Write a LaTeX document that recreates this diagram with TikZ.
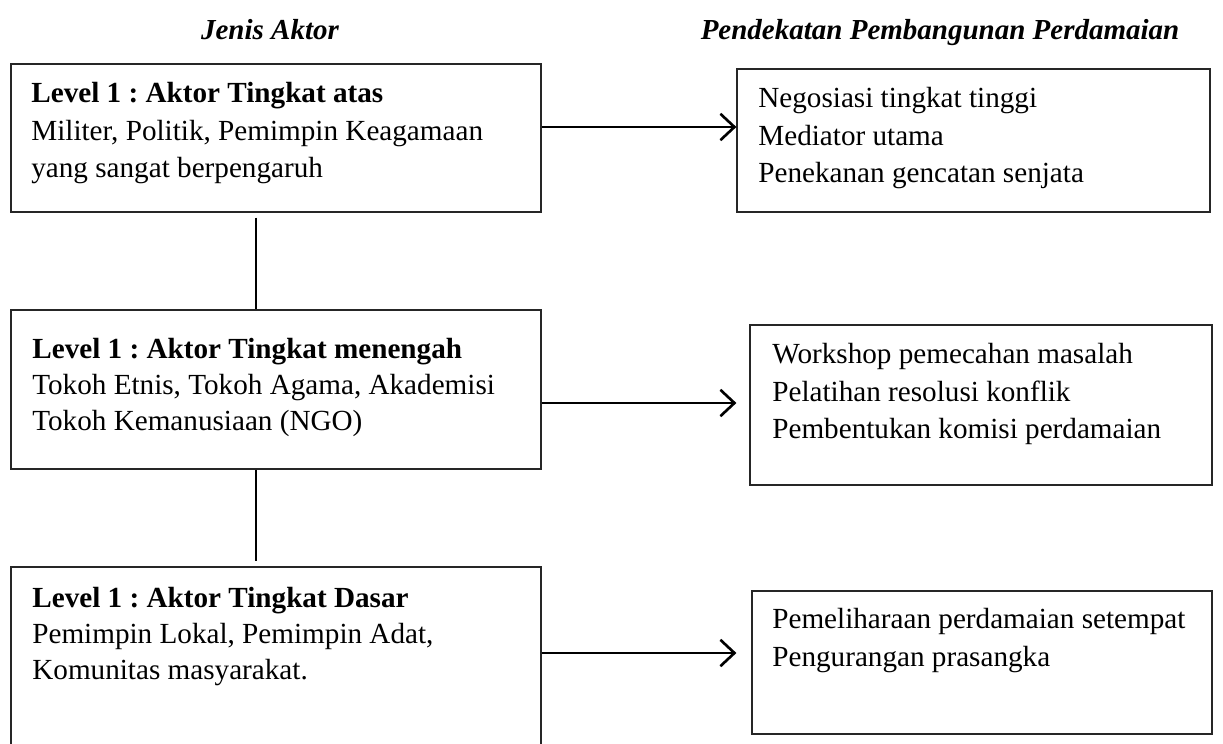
\documentclass[tikz,border=0pt]{standalone}
\usepackage{fontspec}
\setmainfont{Liberation Serif}
\frenchspacing
\usetikzlibrary{arrows.meta, positioning}

\begin{document}
\begin{tikzpicture}[x=0.2mm, y=-0.2mm,
        kotak/.style={rectangle, draw=black!85, line width=0.7pt, inner sep=0pt},
        isi/.style={anchor=north west, align=left, inner sep=0pt, font=\fontsize{16.6}{21.5}\selectfont},
        rapat/.style={font=\fontsize{16.6}{20.5}\selectfont},
        judul/.style={anchor=base, inner sep=0pt, font=\fontsize{16.5}{20}\selectfont\bfseries\itshape},
        garis/.style={-, line width=0.9pt},
        panah/.style={-{Straight Barb[length=8pt, width=15pt]}, line width=1.5pt}
    ]
        \clip (0,0) rectangle (1223,743);
        % Judul kolom
        \node[judul] (jenis) at (270,40) {Jenis Aktor};
        \node[judul] (pendekatan) at (940,40) {Pendekatan Pembangunan Perdamaian};

        % Kotak aktor (kiri)
        \node[kotak, minimum width=106mm, minimum height=29.6mm] (atas) at (276,138) {};
        \node[kotak, minimum width=106mm, minimum height=31.8mm] (menengah) at (276,389.5) {};
        \node[kotak, minimum width=106mm, minimum height=36.6mm] (dasar) at (276,658.5) {};

        % Kotak pendekatan (kanan)
        \node[kotak, minimum width=94.6mm, minimum height=28.6mm] (tinggi) at (973.5,140.5) {};
        \node[kotak, minimum width=92.4mm, minimum height=32mm] (lokakarya) at (981,405) {};
        \node[kotak, minimum width=92mm, minimum height=28.6mm] (setempat) at (982,662.5) {};

        % Isi kotak
        \node[isi] (teksatas) at (31,75.6) {\strut\textbf{Level 1 : Aktor Tingkat atas}\\
            Militer, Politik, Pemimpin Keagamaan\\ yang sangat berpengaruh};
        \node[isi, rapat] (teksmenengah) at (32,332.8) {\strut\textbf{Level 1 : Aktor Tingkat menengah}\\
            Tokoh Etnis, Tokoh Agama, Akademisi\\ Tokoh Kemanusiaan (NGO)};
        \node[isi, rapat] (teksdasar) at (32,581.8) {\strut\textbf{Level 1 : Aktor Tingkat Dasar}\\
            Pemimpin Lokal, Pemimpin Adat,\\ Komunitas masyarakat.};
        \node[isi] (tekstinggi) at (758,80.6) {\strut Negosiasi tingkat tinggi\\
            Mediator utama\\ Penekanan gencatan senjata};
        \node[isi] (tekslokakarya) at (772,336.6) {\strut Workshop pemecahan masalah\\
            Pelatihan resolusi konflik\\ Pembentukan komisi perdamaian};
        \node[isi] (tekssetempat) at (772,601.6) {\strut Pemeliharaan perdamaian setempat\\
            Pengurangan prasangka};

        % Garis antar level
        \draw[garis, shorten <=1mm] ([xshift=-4mm]atas.south) -- ([xshift=-4mm]menengah.north);
        \draw[garis, shorten >=1mm] ([xshift=-4mm]menengah.south) -- ([xshift=-4mm]dasar.north);

        % Panah ke pendekatan
        \draw[panah] ([yshift=2.2mm]atas.east) -- ([yshift=2.2mm]atas.east -| tinggi.west);
        \draw[panah, shorten >=2.6mm] ([yshift=-2.7mm]menengah.east) -- ([yshift=-2.7mm]menengah.east -| lokakarya.west);
        \draw[panah, shorten >=3mm] ([yshift=1.1mm]dasar.east) -- ([yshift=1.1mm]dasar.east -| setempat.west);
    \end{tikzpicture}
\end{document}
